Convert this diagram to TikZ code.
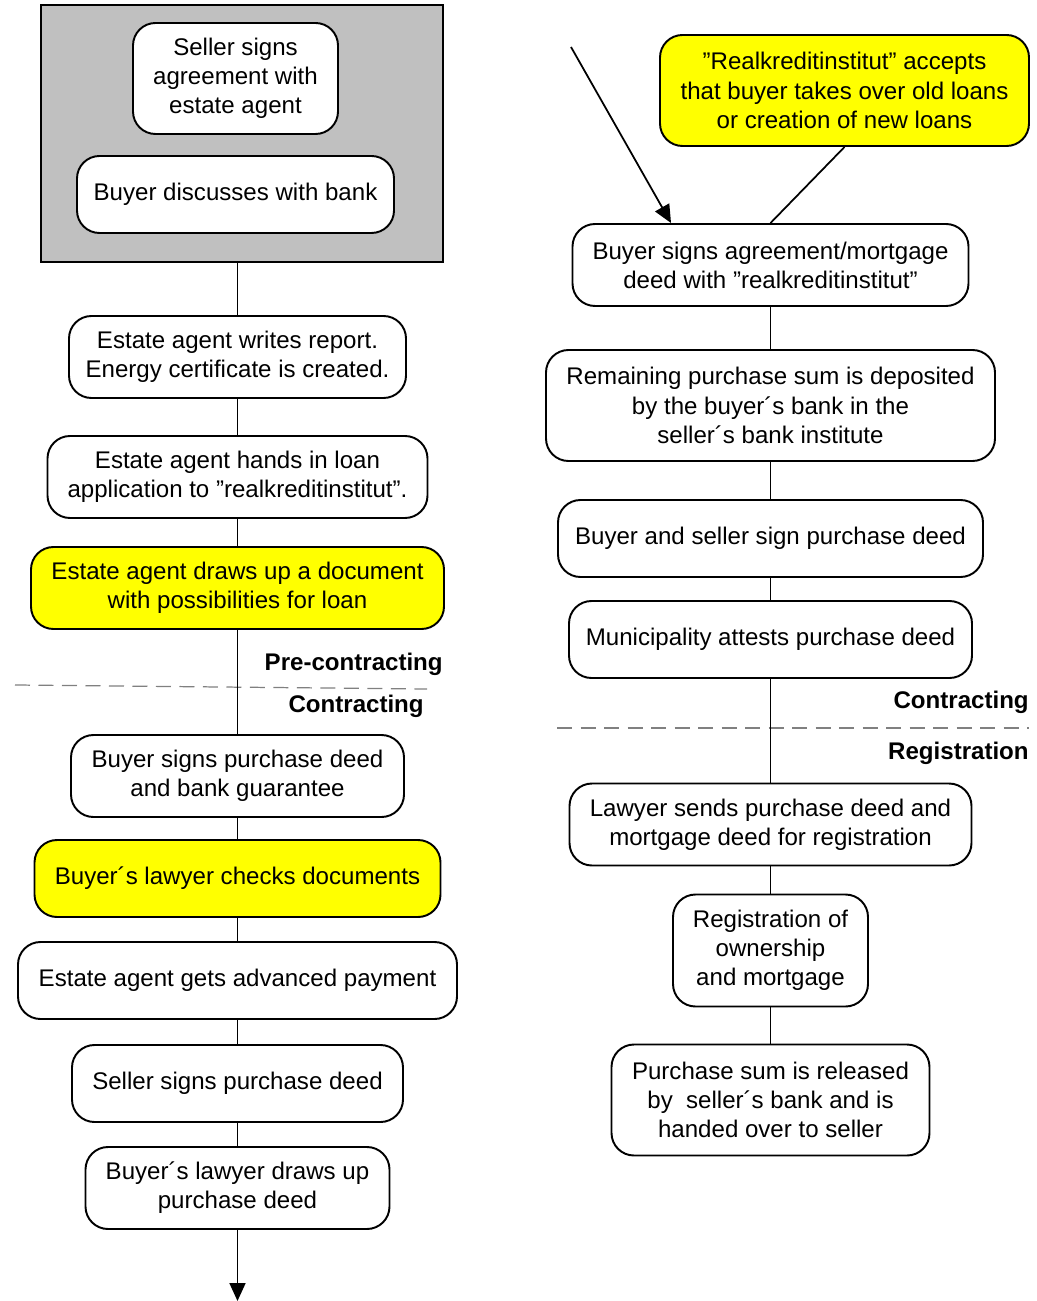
\documentclass[tikz,border=0pt]{standalone}
\usepackage{fontspec}
\setmainfont{Liberation Sans}
\usepackage{tikz}
\usetikzlibrary{calc}
\usetikzlibrary{arrows.meta}

\definecolor{boxgray}{HTML}{C0C0C0}
\definecolor{dashgray}{HTML}{808080}
\definecolor{hlyellow}{HTML}{FFFF00}

\begin{document}
\begin{tikzpicture}[
        stepbox/.style={draw, line width=1.1pt, rounded corners=0.45cm, fill=white,
                align=center, inner sep=2pt, font=\fontsize{13.7}{16.6}\selectfont},
        hlbox/.style={stepbox, fill=hlyellow},
        phase/.style={anchor=east, inner sep=0pt, font=\fontsize{13.7}{16.6}\selectfont\bfseries},
        link/.style={line width=1pt},
        arr/.style={line width=1pt, -{Triangle[length=0.36cm, width=0.32cm]}},
        sep/.style={dashed, dash pattern=on 0.3cm off 0.17cm, dashgray, line width=0.7pt}
    ]
        \useasboundingbox (0,0) rectangle (20.72,-26.02);

        \def\lx{4.75}
        \def\rx{15.41}

        % Before the agent starts
        \node[draw, line width=1.1pt, fill=boxgray, minimum width=8.04cm, minimum height=5.14cm] (grp) at (4.84,-2.67) {};
        \node[stepbox, minimum width=4.10cm, minimum height=2.22cm] (sellagr) at (4.71,-1.57) {Seller signs\\agreement with\\estate agent};
        \node[stepbox, minimum width=6.34cm, minimum height=1.54cm] (buybank) at (4.71,-3.89) {Buyer discusses with bank};

        % Left column
        \node[stepbox, minimum width=6.74cm, minimum height=1.64cm] (report) at (\lx,-7.14) {Estate agent writes report.\\Energy certificate is created.};
        \node[stepbox, minimum width=7.60cm, minimum height=1.64cm] (loanapp) at (\lx,-9.54) {Estate agent hands in loan\\application to ”realkreditinstitut”.};
        \node[hlbox, minimum width=8.26cm, minimum height=1.64cm] (loandoc) at (\lx,-11.76) {Estate agent draws up a document\\with possibilities for loan};

        \node[phase] (precon) at (8.86,-13.28) {Pre-contracting};
        \draw[sep] (0.30,-13.70) -- (8.54,-13.78);
        \node[phase] (conleft) at (8.48,-14.12) {Contracting};

        \node[stepbox, minimum width=6.66cm, minimum height=1.64cm] (buysign) at (\lx,-15.52) {Buyer signs purchase deed\\and bank guarantee};
        \node[hlbox, minimum width=8.12cm, minimum height=1.54cm] (lawcheck) at (\lx,-17.57) {Buyer´s lawyer checks documents};
        \node[stepbox, minimum width=8.78cm, minimum height=1.54cm] (advpay) at (\lx,-19.61) {Estate agent gets advanced payment};
        \node[stepbox, minimum width=6.62cm, minimum height=1.54cm] (sellsign) at (\lx,-21.67) {Seller signs purchase deed};
        \node[stepbox, minimum width=6.08cm, minimum height=1.64cm] (lawdraw) at (\lx,-23.76) {Buyer´s lawyer draws up\\purchase deed};
        \coordinate (leftend) at (\lx,-26.02);

        % Right column
        \node[hlbox, minimum width=7.38cm, minimum height=2.22cm] (accept) at (16.89,-1.81) {”Realkreditinstitut” accepts\\that buyer takes over old loans\\or creation of new loans};
        \node[stepbox, minimum width=7.92cm, minimum height=1.64cm] (mortg) at (\rx,-5.30) {Buyer signs agreement/mortgage\\deed with ”realkreditinstitut”};
        \node[stepbox, minimum width=8.98cm, minimum height=2.22cm] (deposit) at (\rx,-8.11) {Remaining purchase sum is deposited\\by the buyer´s bank in the\\seller´s bank institute};
        \node[stepbox, minimum width=8.50cm, minimum height=1.54cm] (bothsign) at (\rx,-10.77) {Buyer and seller sign purchase deed};
        \node[stepbox, minimum width=8.06cm, minimum height=1.54cm] (attest) at (\rx,-12.79) {Municipality attests purchase deed};

        \node[phase] (conright) at (20.58,-14.04) {Contracting};
        \draw[sep] (11.14,-14.56) -- (20.58,-14.56);
        \node[phase] (regist) at (20.58,-15.06) {Registration};

        \node[stepbox, minimum width=8.04cm, minimum height=1.64cm] (sendreg) at (\rx,-16.49) {Lawyer sends purchase deed and\\mortgage deed for registration};
        \node[stepbox, minimum width=3.90cm, minimum height=2.24cm] (owner) at (\rx,-19.01) {Registration of\\ownership\\and mortgage};
        \node[stepbox, minimum width=6.36cm, minimum height=2.22cm] (release) at (\rx,-22.00) {Purchase sum is released\\by\ \ seller´s bank and is\\handed over to seller};
        \coordinate (incoming) at (11.42,-0.94);

        % Connectors
        \draw[link] (report.north |- grp.south) -- (report.north);
        \draw[link] (report) -- (loanapp);
        \draw[link] (loanapp) -- (loandoc);
        \draw[link] (loandoc) -- (buysign);
        \draw[link] (buysign) -- (lawcheck);
        \draw[link] (lawcheck) -- (advpay);
        \draw[link] (advpay) -- (sellsign);
        \draw[link] (sellsign) -- (lawdraw);
        \draw[arr] (lawdraw) -- (leftend);

        \draw[arr] (incoming) -- ($(mortg.north west)!0.25!(mortg.north east)$);
        \draw[link] (accept.south) -- (mortg.north);
        \draw[link] (mortg) -- (deposit);
        \draw[link] (deposit) -- (bothsign);
        \draw[link] (bothsign) -- (attest);
        \draw[link] (attest) -- (sendreg);
        \draw[link] (sendreg) -- (owner);
        \draw[link] (owner) -- (release);
\end{tikzpicture}
\end{document}
